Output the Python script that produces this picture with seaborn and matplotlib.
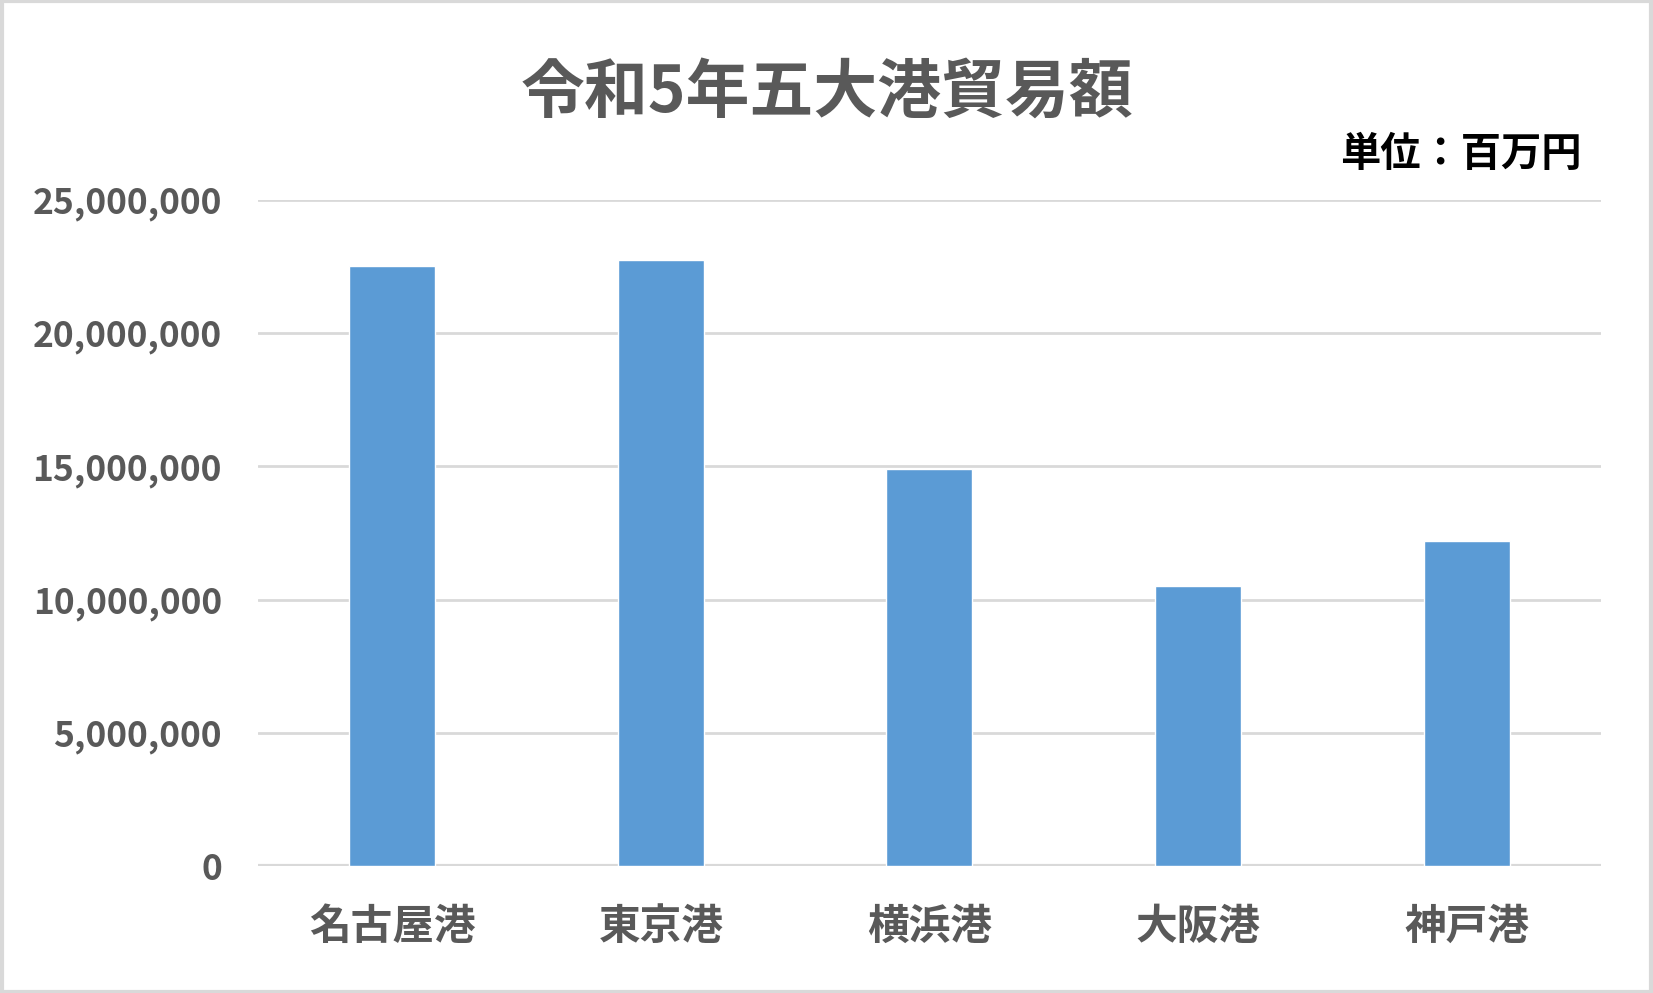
import numpy as np
import pandas as pd
import matplotlib
matplotlib.use("Agg")
import matplotlib.pyplot as plt
import matplotlib.ticker as mticker
import seaborn as sns

#%% data (百万円)
ports = ["名古屋港", "東京港", "横浜港", "大阪港", "神戸港"]
trade = [22520000, 22750000, 14890000, 10510000, 12210000]
yticks = [0, 5000000, 10000000, 15000000, 20000000, 25000000]

df = pd.DataFrame({"port": ports, "trade": trade})

#%% style
sns.set_theme(style="white")
plt.rcParams['font.family'] = ['Noto Sans CJK JP', 'DejaVu Sans']

grey = "#595959"
fig = plt.figure(figsize=(16.53, 9.93), dpi=100)
ax = fig.add_axes([0.156, 0.128, 0.8126, 0.6706])

sns.barplot(data=df, x="port", y="trade", color="#5b9bd5", width=0.32,
            saturation=1, ax=ax, zorder=3)

ax.set_ylim(0, 25000000)
ax.set_yticks(yticks)
ax.yaxis.set_major_formatter(mticker.FuncFormatter(lambda v, p: f"{int(v):,}"))
ax.yaxis.grid(True, color="#d9d9d9", linewidth=2, zorder=0)
ax.set_axisbelow(True)
for s in ax.spines.values():
    s.set_visible(False)
ax.axhline(0, color="#d9d9d9", linewidth=3, zorder=2)
ax.set_xlabel("")
ax.set_ylabel("")
ax.tick_params(axis="y", length=0, pad=26, labelsize=25.5, labelcolor=grey)
ax.tick_params(axis="x", length=0, pad=29, labelsize=30, labelcolor=grey)
for lab in ax.get_yticklabels() + ax.get_xticklabels():
    lab.set_fontweight("bold")

fig.text(0.5, 0.906, "令和5年五大港貿易額", ha="center", va="center",
         fontsize=46, fontweight="bold", color=grey)
fig.text(0.957, 0.844, "単位：百万円", ha="right", va="center",
         fontsize=29, fontweight="bold", color="black")

# outer border
fig.patches.append(plt.Rectangle((0.001, 0.001), 0.998, 0.998, transform=fig.transFigure,
                                 fill=False, edgecolor="#d9d9d9", linewidth=3))

fig.savefig("out.png", dpi=100)
